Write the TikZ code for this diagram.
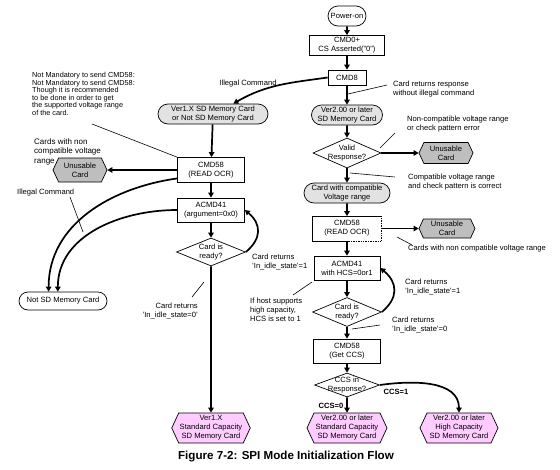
\documentclass[tikz,border=0pt]{standalone}
\usepackage{fontspec}
\setmainfont{Liberation Sans}
\usetikzlibrary{shapes.geometric,shapes.misc,shapes.symbols,arrows.meta}

\definecolor{termgray}{RGB}{226,226,226}
\definecolor{unusgray}{RGB}{190,190,190}
\definecolor{cardpink}{RGB}{255,204,255}

\tikzset{
  txt/.style={font=\fontsize{7.6}{9}\selectfont, align=center, inner sep=1pt},
  procbox/.style={txt, rectangle, draw, fill=white, line width=0.7pt},
  termbox/.style={txt, rounded rectangle, draw, fill=termgray, line width=0.7pt},
  decis/.style={txt, diamond, draw, fill=white, inner sep=-8pt, line width=0.7pt},
  hexbox/.style={txt, signal, signal to=east and west, signal pointer angle=130, draw, line width=0.7pt},
  flow/.style={line width=1.7pt, -{Triangle[length=5pt,width=5.5pt]}},
  ptr/.style={line width=0.6pt},
  note/.style={txt, align=left, anchor=west},
}

\begin{document}
\begin{tikzpicture}[x=1pt, y=1pt]

    % Fix the canvas to the page size
    \useasboundingbox (0,0) rectangle (560,-469);

    % Right column: Ver2.00 cards
    \node[termbox, fill=white, minimum width=40pt, minimum height=20pt] (pwr) at (347,-16) {Power-on};
    \node[procbox, minimum width=75pt, minimum height=20pt, inner sep=0pt] (cmdz) at (347,-45.5) {CMD0+\\CS Asserted("0")};
    \node[procbox, minimum width=38pt, minimum height=15pt] (cmde) at (347,-77.5) {CMD8};
    \node[termbox, minimum width=73pt, minimum height=20pt] (vtwo) at (347,-115) {Ver2.00 or later\\SD Memory Card};
    \node[decis, minimum width=68pt, minimum height=30pt] (valid) at (347,-153) {Valid\\Response?};
    \node[hexbox, fill=unusgray, minimum width=54pt, minimum height=21pt] (unA) at (446,-153) {Unusable\\Card};
    \node[termbox, minimum width=88pt, minimum height=20pt] (compat) at (347,-193) {Card with compatible\\Voltage range};
    \node[procbox, draw=none, minimum width=68pt, minimum height=24pt] (ocrR) at (347,-228.5) {CMD58\\(READ OCR)};
    \node[hexbox, fill=unusgray, minimum width=56pt, minimum height=19pt] (unB) at (447,-228.5) {Unusable\\Card};
    \node[procbox, minimum width=66pt, minimum height=24pt] (acmdR) at (347,-268) {ACMD41\\with HCS=0or1};
    \node[decis, minimum width=69pt, minimum height=29pt] (rdyR) at (347,-312) {Card is\\ready?};
    \node[procbox, minimum width=67pt, minimum height=24pt] (ccs) at (347,-351) {CMD58\\(Get CCS)};
    \node[decis, minimum width=65pt, minimum height=24pt] (ccsq) at (347,-385) {CCS in\\Response?};
    \node[hexbox, fill=cardpink, minimum width=80pt, minimum height=30pt] (hcStd) at (347,-428) {Ver2.00 or later\\Standard Capacity\\SD Memory Card};
    \node[hexbox, fill=cardpink, minimum width=78pt, minimum height=30pt] (hcHigh) at (459,-428) {Ver2.00 or later\\High Capacity\\SD Memory Card};

    % Left column: Ver1.X cards
    \node[termbox, minimum width=112pt, minimum height=20pt] (vone) at (213,-114) {Ver1.X SD Memory Card\\or Not SD Memory Card};
    \node[procbox, minimum width=67pt, minimum height=25pt] (ocrL) at (211,-170) {CMD58\\(READ OCR)};
    \node[hexbox, fill=unusgray, minimum width=54pt, minimum height=24pt] (unL) at (80,-170) {Unusable\\Card};
    \node[procbox, minimum width=67pt, minimum height=24pt] (acmdL) at (211,-210) {ACMD41\\(argument=0x0)};
    \node[decis, minimum width=69pt, minimum height=28pt] (rdyL) at (211,-252) {Card is\\ready?};
    \node[termbox, fill=white, minimum width=90pt, minimum height=18pt] (notsd) at (63,-301) {Not SD Memory Card};
    \node[hexbox, fill=cardpink, minimum width=76pt, minimum height=30pt] (vx) at (211,-428) {Ver1.X\\Standard Capacity\\SD Memory Card};

    % Dotted right side of the second CMD58 box
    \draw[line width=0.7pt] (ocrR.south) -| (ocrR.north west) -- (ocrR.north east);
    \draw[line width=0.7pt, densely dotted] (ocrR.north east) |- (ocrR.south);

    % Notes beside the flow
    \node[txt] (tIll) at (248,-84) {Illegal Command};
    \node[note] (tResp) at (392,-89.5) {Card returns response\\without illegal command};
    \node[note] (tNonc) at (406,-124.5) {Non-compatible voltage range\\or check pattern error};
    \node[note] (tCompat) at (407,-182) {Compatible voltage range\\and check pattern is correct};
    \node[note] (tNoncB) at (407,-249) {Cards with non compatible voltage range};
    \node[note] (tRetR1) at (404,-286.5) {Card returns\\'In\_idle\_state'=1};
    \node[note] (tHost) at (249,-309.5) {If host supports\\high capacity,\\HCS is set to 1};
    \node[note] (tRetR0) at (391,-324.5) {Card returns\\'In\_idle\_state'=0};
    \node[note] (tRetL1) at (251,-261.5) {Card returns\\'In\_idle\_state'=1};
    \node[txt, align=right, anchor=east] (tRetL0) at (199,-311) {Card returns\\'In\_idle\_state=0'};
    \node[note, anchor=north west, font=\fontsize{7.3}{7.6}\selectfont] (tNote) at (31,-71) {Not Mandatory to send CMD58:\\Not Mandatory to send CMD58:\\Though it is recommended\\to be done in order to get\\the supported voltage range\\of the card.};
    \node[note, anchor=north west, font=\fontsize{8}{9.5}\selectfont] (tNonL) at (33,-137) {Cards with non\\compatible voltage\\range};
    \node[note] (tIllL) at (16,-193) {Illegal Command};
    \node[txt, font=\fontsize{7.6}{9}\selectfont\bfseries] (tCcs1) at (396,-392) {CCS=1};
    \node[txt, font=\fontsize{7.6}{9}\selectfont\bfseries] (tCcs0) at (331,-406) {CCS=0};

    % Caption
    \node[font=\fontsize{11.6}{13}\selectfont\bfseries] (caption) at (286,-457) {Figure 7-2: SPI Mode Initialization Flow};

    % Straight flow arrows
    \foreach \a/\b in {pwr/cmdz, cmdz/cmde, cmde/vtwo, vtwo/valid, valid/compat, compat/ocrR,
                       ocrR/acmdR, acmdR/rdyR, rdyR/ccs, ccs/ccsq, ccsq/hcStd,
                       vone/ocrL, ocrL/acmdL, acmdL/rdyL, rdyL/vx} {
        \draw[flow] (\a) -- (\b);
    }
    \draw[flow] (valid.east) -- (unA.west);
    \draw[flow] (ocrR.east) -- (unB.west);
    \draw[flow] (ocrL.west) -- (unL.east);

    % Curved flow arrows
    \draw[flow] (cmde.west) to[out=188, in=30] (vone.27);
    \draw[flow] (rdyR.east) to[out=40, in=-40, looseness=1.3] (acmdR.east);
    \draw[flow] (rdyL.east) to[out=40, in=-40, looseness=1.3] (acmdL.east);
    \draw[flow] (ccsq.east) to[out=8, in=90] (hcHigh.north);
    \draw[flow] (ocrL.194) to[out=188, in=90] (notsd.147);
    \draw[flow] (acmdL.west) to[out=180, in=90] (notsd.119);

    % Leader lines from the notes
    \coordinate (sResp) at (387,-85);   \coordinate (eResp) at (348,-94);
    \coordinate (sNonc) at (395,-133);  \coordinate (eNonc) at (380,-148);
    \coordinate (sCompat) at (395,-177); \coordinate (eCompat) at (350,-173);
    \coordinate (sNoncB) at (412,-245); \coordinate (eNoncB) at (397,-237);
    \coordinate (sHost) at (293,-295);  \coordinate (eHost) at (312,-282);
    \coordinate (sRetR0) at (380,-325); \coordinate (eRetR0) at (352,-329);
    \coordinate (sRetL0) at (192,-297); \coordinate (eRetL0) at (204,-282);
    \coordinate (sIllL) at (70,-197);   \coordinate (eIllL) at (83,-232);
    \coordinate (sNote) at (92,-124);
    \foreach \a/\b in {sResp/eResp, sNonc/eNonc, sCompat/eCompat, sNoncB/eNoncB,
                       sHost/eHost, sRetR0/eRetR0, sRetL0/eRetL0, sIllL/eIllL, sNote/ocrL.north west} {
        \draw[ptr] (\a) -- (\b);
    }

\end{tikzpicture}
\end{document}
